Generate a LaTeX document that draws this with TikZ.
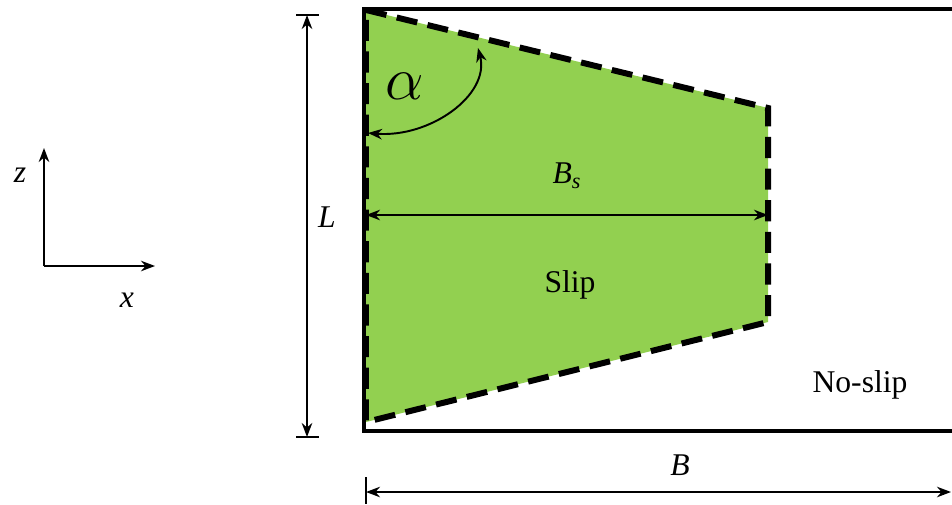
\documentclass[tikz,border=0pt]{standalone}
\usepackage{fontspec}
\setmainfont{Liberation Serif}
\newfontfamily\timesfont{Liberation Serif}
\usetikzlibrary{arrows.meta}
\definecolor{ink}{HTML}{000000}
\definecolor{slipgreen}{HTML}{92D050}

\begin{document}
\begin{tikzpicture}[x=0.02cm,y=-0.02cm,>={Stealth[length=8pt,width=6pt]},
  lbl/.style={font=\timesfont\fontsize{18}{20}\selectfont},
  dim/.style={<->,ink,line width=1.1pt},
  slipedge/.style={ink,line width=3.4pt,dash pattern=on 12pt off 6pt}]
 \useasboundingbox (0,0) rectangle (952,504);
 % axes
 \coordinate (o) at (44,266);
 \coordinate (zend) at (44,148);
 \coordinate (xend) at (155,266);
 \draw[->,ink,line width=1.1pt] (o)--(zend);
 \draw[->,ink,line width=1.1pt] (o)--(xend);
 \node[lbl] (zlab) at (20,175) {\textit{z}};
 \node[lbl] (xlab) at (127,300) {\textit{x}};
 % slip patch
 \coordinate (s1) at (366,10);
 \coordinate (s2) at (768,108);
 \coordinate (s3) at (768,322);
 \coordinate (s4) at (366,422);
 \fill[slipgreen] (s1)--(s2)--(s3)--(s4)--cycle;
 \draw[ink,line width=2.3pt] (952,9)--(364,9)--(364,431)--(952,431);
 \draw[slipedge] (s1)--(s2)--(s3)--(s4)--cycle;
 % angle
 \coordinate (a1) at (368,133);
 \coordinate (a2) at (478,48);
 \draw[<->,ink,line width=1.1pt] (a1) .. controls (430,138) and (490,95) .. (a2);
 \node (alpha) at (405,86) {\scalebox{1.4}{\fontsize{24}{26}\selectfont$\alpha$}};
 % widths
 \draw[dim] (366,215)--(768,215);
 \node[lbl] (bs) at (567,176) {\textit{B}\textsubscript{\textit{s}}};
 \node[lbl] (slip) at (570,285) {Slip};
 \node[lbl] (noslip) at (860,385) {No-slip};
 % length L
 \draw[ink,line width=1.1pt] (296,15)--(319,15);
 \draw[ink,line width=1.1pt] (296,437)--(319,437);
 \draw[dim] (307,15)--(307,437);
 \node[lbl] (llab) at (327,217) {\textit{L}};
 % width B
 \draw[ink,line width=1.1pt] (366,477)--(366,504);
 \draw[dim] (366,492)--(951,492);
 \node[lbl] (blab) at (680,465) {\textit{B}};
\end{tikzpicture}
\end{document}
